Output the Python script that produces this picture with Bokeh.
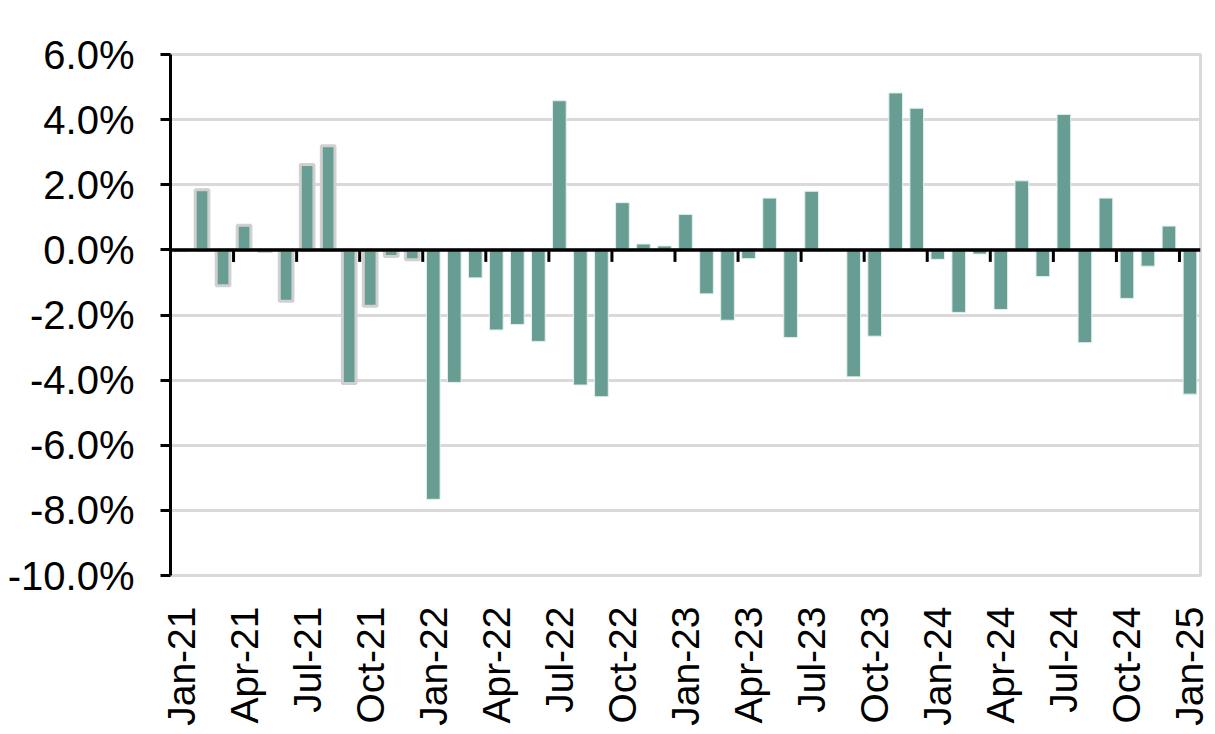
import math
from bokeh.plotting import figure
from bokeh.models import Range1d, FixedTicker, PrintfTickFormatter, Span, ColumnDataSource
from bokeh.embed import file_html
from bokeh.resources import INLINE

months = ["Jan-21", "Feb-21", "Mar-21", "Apr-21", "May-21", "Jun-21", "Jul-21", "Aug-21", "Sep-21", "Oct-21", "Nov-21", "Dec-21",
          "Jan-22", "Feb-22", "Mar-22", "Apr-22", "May-22", "Jun-22", "Jul-22", "Aug-22", "Sep-22", "Oct-22", "Nov-22", "Dec-22",
          "Jan-23", "Feb-23", "Mar-23", "Apr-23", "May-23", "Jun-23", "Jul-23", "Aug-23", "Sep-23", "Oct-23", "Nov-23", "Dec-23",
          "Jan-24", "Feb-24", "Mar-24", "Apr-24", "May-24", "Jun-24", "Jul-24", "Aug-24", "Sep-24", "Oct-24", "Nov-24", "Dec-24",
          "Jan-25"]

# monthly change, percent
values = [-0.02, 1.85, -1.10, 0.76, -0.05, -1.58, 2.62, 3.20, -4.10, -1.73, -0.20, -0.30,
          -7.66, -4.07, -0.86, -2.46, -2.29, -2.81, 4.58, -4.15, -4.51, 1.45, 0.18, 0.12,
          1.09, -1.35, -2.16, -0.27, 1.59, -2.69, 1.80, 0.02, -3.90, -2.65, 4.82, 4.35,
          -0.29, -1.92, -0.13, -1.83, 2.12, -0.82, 4.16, -2.85, 1.59, -1.49, -0.50, 0.73,
          -4.43]

highlighted_count = 12  # first year drawn with a grey outline

y_ticks = [-10, -8, -6, -4, -2, 0, 2, 4, 6]
label_step = 3

BAR = "#679d93"
GRID = "#d9d9d9"
FONT = "Liberation Sans"

idx = list(range(len(months)))

p = figure(width=1215, height=734, output_backend="svg", toolbar_location=None,
           x_range=Range1d(-0.5, len(months) - 0.5), y_range=Range1d(y_ticks[0], y_ticks[-1]),
           min_border_left=170, min_border_right=15, min_border_top=54, min_border_bottom=159)
p.background_fill_color = "white"
p.border_fill_color = "white"
p.outline_line_color = GRID
p.outline_line_width = 3

src_hi = ColumnDataSource(dict(x=idx[:highlighted_count], top=values[:highlighted_count]))
src_lo = ColumnDataSource(dict(x=idx[highlighted_count:], top=values[highlighted_count:]))

p.vbar(x="x", top="top", bottom=0, width=0.65, source=src_lo,
       fill_color=BAR, line_color="#e3efec", line_width=1)
p.vbar(x="x", top="top", bottom=0, width=0.65, source=src_hi,
       fill_color=BAR, line_color="#d0d0d0", line_width=3)

# zero axis line with ticks between category groups
p.add_layout(Span(location=0, dimension="width", line_color="black", line_width=3.5))
tick_x = [k - 0.5 for k in range(label_step, len(months), label_step)]
p.ray(x=tick_x, y=[0] * len(tick_x), length=12, angle=-math.pi / 2,
      length_units="screen", line_color="black", line_width=3)

# y axis
p.yaxis.ticker = FixedTicker(ticks=y_ticks)
p.yaxis.formatter = PrintfTickFormatter(format="%.1f%%")
p.yaxis.axis_line_color = "black"
p.yaxis.axis_line_width = 3
p.yaxis.major_tick_line_color = "black"
p.yaxis.major_tick_line_width = 3
p.yaxis.major_tick_out = 10
p.yaxis.major_tick_in = 0
p.yaxis.minor_tick_line_color = None
p.yaxis.major_label_text_font = FONT
p.yaxis.major_label_text_font_size = "40px"
p.yaxis.major_label_text_color = "black"
p.yaxis.major_label_standoff = 26

# x axis (labels only, low position)
label_idx = list(range(0, len(months), label_step))
p.xaxis.ticker = FixedTicker(ticks=label_idx)
p.xaxis.major_label_overrides = {i: months[i] for i in label_idx}
p.xaxis.major_label_orientation = math.pi / 2
p.xaxis.axis_line_color = None
p.xaxis.major_tick_line_color = None
p.xaxis.minor_tick_line_color = None
p.xaxis.major_tick_out = 0
p.xaxis.major_tick_in = 0
p.xaxis.major_label_text_font = FONT
p.xaxis.major_label_text_font_size = "39px"
p.xaxis.major_label_text_color = "black"
p.xaxis.major_label_standoff = 31

p.xgrid.grid_line_color = None
p.ygrid.grid_line_color = GRID
p.ygrid.grid_line_width = 3

open("out.html", "w").write(file_html(p, INLINE))
